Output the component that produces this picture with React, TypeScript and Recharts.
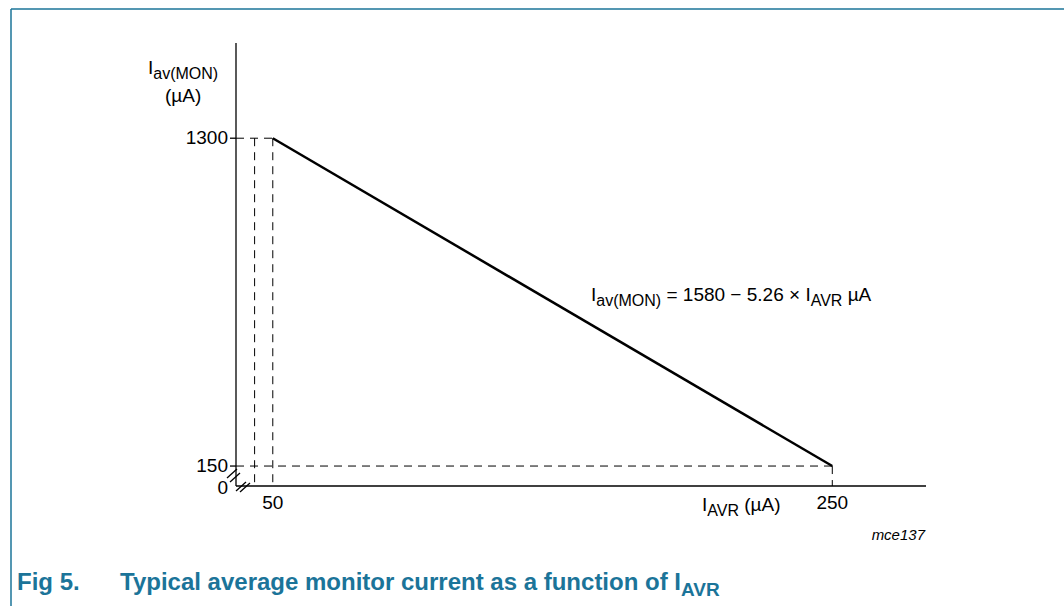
import React from 'react';
import { LineChart, Line, XAxis, YAxis, ReferenceLine, Customized } from 'recharts';

// values
const iavr = [50, 250];
const iavMon = [1300, 150];
const xTicks = [50, 250];
const yBreak = 80; // where the broken y axis meets the x axis (labelled 0)
const yTicks = [yBreak, 150, 1300];
const yTickLabels = ['0', '150', '1300'];
const guideX = 43.5; // extra dashed guide left of the 50 line

const data = iavr.map((x, i) => ({ x, y: iavMon[i] }));

const X_MIN = 36.85;
const X_MAX = 283.5;
const Y_MAX = 1634;

const FONT = '"Liberation Sans", Arial, sans-serif';
const TEAL = '#1b7499';

const YTick = (props: any) => {
  const { x, y, payload } = props;
  const idx = yTicks.indexOf(payload.value);
  const label = yTickLabels[idx];
  return (
    <g>
      {label !== '0' && <line x1={x + 3} x2={x + 9} y1={y} y2={y} stroke="#000" strokeWidth={1.3} />}
      <text x={x + 1} y={label === '0' ? y + 2 : y} dy={6} textAnchor="end" fontSize={19} fontFamily={FONT} fill="#000">{label}</text>
    </g>
  );
};

const Annotations = () => (
  <g fontFamily={FONT} fill="#000">
    {/* frame */}
    <line x1={11} y1={9} x2={1064} y2={9} stroke={TEAL} strokeWidth={1.5} />
    <line x1={11} y1={9} x2={11} y2={606} stroke={TEAL} strokeWidth={1.5} />
    {/* y axis title */}
    <text x={148} y={74} fontSize={19}>
      I<tspan dy={5} fontSize={16}>av(MON)</tspan>
    </text>
    <text x={165} y={102} fontSize={19}>(µA)</text>
    {/* x axis title */}
    <text x={702} y={511} fontSize={19}>
      I<tspan dy={5} fontSize={16}>AVR</tspan><tspan dy={-5}> (µA)</tspan>
    </text>
    {/* formula */}
    <text x={591} y={301} fontSize={19}>
      I<tspan dy={5} fontSize={16}>av(MON)</tspan><tspan dy={-5}> = 1580 − 5.26 × I</tspan>
      <tspan dy={5} fontSize={16}>AVR</tspan><tspan dy={-5}> µA</tspan>
    </text>
    <text x={925} y={540} fontSize={15} fontStyle="italic" textAnchor="end">mce137</text>
    {/* caption */}
    <text x={17} y={590} fontSize={24} fontWeight="bold" fill={TEAL}>
      Fig 5.<tspan x={120}>Typical average monitor current as a function of I</tspan>
      <tspan dy={6} fontSize={19}>AVR</tspan>
    </text>
    {/* axis break marks */}
    <line x1={227} y1={478} x2={237} y2={469} stroke="#000" strokeWidth={1.3} />
    <line x1={230} y1={482} x2={240} y2={473} stroke="#000" strokeWidth={1.3} />
    <line x1={236} y1={491} x2={246} y2={482} stroke="#000" strokeWidth={1.3} />
    <line x1={240} y1={492} x2={250} y2={483} stroke="#000" strokeWidth={1.3} />
  </g>
);

export default function App() {
  return (
    <div style={{ position: 'fixed', left: 0, top: 0, width: 1064, height: 606, background: '#fff' }}>
      <LineChart width={1064} height={606} data={data} margin={{ top: 43, right: 138, bottom: 90, left: 176 }}>
        <XAxis
          dataKey="x"
          type="number"
          domain={[X_MIN, X_MAX]}
          ticks={xTicks}
          interval={0}
          axisLine={{ stroke: '#000', strokeWidth: 1.3 }}
          tickLine={false}
          height={30}
          tick={{ fontSize: 19, fontFamily: FONT, fill: '#000' }}
          tickMargin={4}
        />
        <YAxis
          type="number"
          domain={[yBreak, Y_MAX]}
          ticks={yTicks}
          interval={0}
          width={60}
          axisLine={{ stroke: '#000', strokeWidth: 1.3 }}
          tickLine={false}
          tickSize={6}
          tickMargin={3}
          tick={<YTick />}
        />
        <ReferenceLine segment={[{ x: X_MIN, y: 1300 }, { x: 50, y: 1300 }]} stroke="#000" strokeDasharray="8 6" />
        <ReferenceLine segment={[{ x: guideX, y: 1300 }, { x: guideX, y: yBreak }]} stroke="#000" strokeDasharray="8 6" />
        <ReferenceLine segment={[{ x: 50, y: 1300 }, { x: 50, y: yBreak }]} stroke="#000" strokeDasharray="8 6" />
        <ReferenceLine segment={[{ x: X_MIN, y: 150 }, { x: 250, y: 150 }]} stroke="#000" strokeDasharray="8 6" />
        <ReferenceLine segment={[{ x: 250, y: 150 }, { x: 250, y: yBreak }]} stroke="#000" strokeDasharray="8 6" />
        <Line dataKey="y" stroke="#000" strokeWidth={2.5} dot={false} isAnimationActive={false} />
        <Customized component={<Annotations />} />
      </LineChart>
    </div>
  );
}
